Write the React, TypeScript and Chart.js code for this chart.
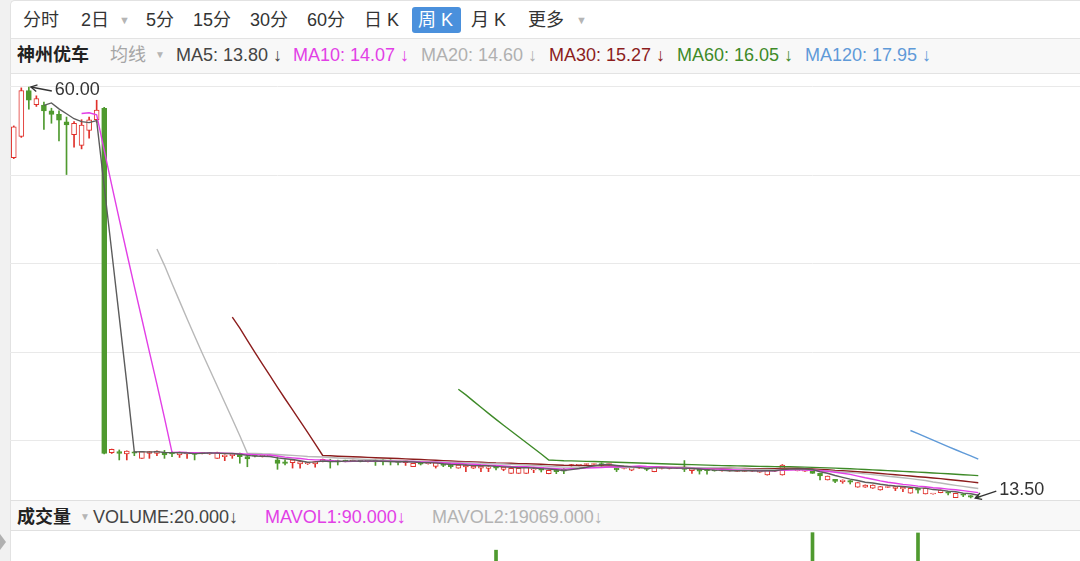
import React, { useEffect, useRef } from "react";
import { Chart, registerables } from "chart.js";

Chart.register(...registerables);

// ---------- data (weekly candles) ----------
const openPrices = [
  52.0, 54.4, 59.6, 58.0, 57.95, 57.3, 56.9, 56.05, 54.6, 53.4, 55.1, 56.3,
  57.6, 18.64, 18.76, 18.5, 18.75, 18.0, 18.57, 18.57, 18.64, 18.65, 18.38, 18.5,
  18.6, 18.55, 18.5, 18.0, 18.19, 18.3, 18.57, 18.2, 18.3, 18.22, 18.25, 17.82,
  17.6, 17.5, 17.36, 17.4, 17.36, 17.63, 17.8, 17.75, 17.75, 17.7, 17.72, 17.68,
  17.8, 17.82, 17.8, 17.75, 17.5, 17.06, 17.5, 17.4, 17.1, 17.36, 17.25, 16.88,
  17.03, 16.88, 16.9, 16.85, 17.1, 16.75, 16.31, 16.31, 16.31, 16.7, 16.95, 16.27,
  16.7, 16.75, 17.14, 17.2, 17.3, 17.3, 17.4, 17.3, 16.88, 16.85, 16.65, 16.9,
  16.95, 16.5, 16.85, 16.85, 16.88, 17.0, 16.6, 16.75, 16.8, 16.65, 16.57, 16.58,
  16.52, 16.52, 16.55, 16.45, 16.12, 16.55, 16.12, 16.8, 16.6, 16.55, 16.69, 16.31,
  15.55, 15.63, 15.36, 15.48, 14.73, 14.73, 14.62, 14.42, 14.7, 14.6, 14.55, 14.05,
  14.62, 13.97, 13.97, 14.12, 14.23, 13.56, 14.0, 13.78, 13.72,
];
const highPrices = [
  55.6, 59.9, 60.0, 59.0, 58.3, 57.6, 57.3, 56.6, 56.1, 56.3, 56.6, 58.5,
  57.7, 19.05, 18.95, 18.85, 18.8, 18.8, 18.78, 18.85, 18.9, 18.75, 18.72, 18.66,
  18.66, 18.62, 18.66, 18.7, 18.4, 18.52, 18.6, 18.38, 18.35, 18.35, 18.36, 18.19,
  17.82, 17.85, 17.65, 17.55, 17.65, 17.92, 17.9, 17.8, 17.8, 17.8, 17.76, 17.78,
  17.85, 17.85, 17.85, 17.78, 17.77, 17.45, 17.55, 17.5, 17.5, 17.4, 17.28, 17.28,
  17.28, 17.16, 17.12, 17.07, 17.15, 17.02, 16.9, 16.9, 17.02, 17.0, 17.0, 16.67,
  16.75, 16.84, 17.32, 17.28, 17.38, 17.38, 17.5, 17.38, 16.9, 16.92, 17.02, 16.98,
  16.98, 17.02, 16.92, 16.92, 16.93, 17.75, 16.88, 16.79, 16.85, 16.66, 16.65, 16.65,
  16.6, 16.6, 16.62, 16.52, 16.7, 16.62, 17.3, 16.88, 16.67, 16.62, 16.7, 16.32,
  16.0, 15.64, 15.57, 15.5, 15.26, 15.0, 15.0, 14.82, 14.77, 14.82, 14.75, 14.63,
  14.63, 14.63, 14.0, 14.43, 14.25, 14.06, 14.02, 13.8, 13.75,
];
const lowPrices = [
  51.9, 54.3, 57.5, 57.8, 55.2, 55.9, 53.9, 50.1, 53.2, 53.0, 54.2, 56.0,
  18.5, 18.55, 17.82, 17.82, 18.3, 18.0, 18.0, 18.3, 18.0, 18.2, 18.1, 18.0,
  17.82, 18.5, 18.45, 18.0, 17.74, 18.0, 17.45, 17.05, 18.15, 18.15, 18.2, 16.76,
  17.25, 16.9, 16.9, 17.3, 17.0, 17.6, 16.9, 17.25, 17.6, 17.65, 17.6, 17.6,
  17.2, 17.25, 17.25, 17.25, 17.2, 17.06, 17.25, 17.35, 16.9, 17.06, 16.88, 16.88,
  16.5, 16.85, 16.5, 16.5, 16.7, 16.6, 16.3, 16.3, 16.3, 16.38, 16.46, 16.25,
  16.27, 16.27, 17.1, 17.15, 17.25, 17.25, 17.05, 17.25, 16.5, 16.8, 16.6, 16.85,
  16.6, 16.48, 16.8, 16.8, 16.87, 16.5, 16.31, 16.22, 16.22, 16.55, 16.55, 16.55,
  16.5, 16.5, 16.52, 16.42, 16.1, 16.52, 16.1, 16.78, 16.58, 16.52, 16.3, 15.55,
  15.55, 15.25, 15.18, 15.1, 14.73, 14.72, 14.6, 14.4, 14.68, 14.35, 14.23, 14.05,
  14.05, 13.97, 13.95, 14.1, 13.86, 13.55, 13.67, 13.52, 13.5,
];
const closePrices = [
  55.5, 59.6, 58.5, 58.7, 57.3, 56.9, 56.25, 55.7, 55.9, 55.7, 56.3, 57.4,
  18.55, 19.03, 18.57, 18.83, 18.6, 18.76, 18.76, 18.83, 18.38, 18.5, 18.69, 18.64,
  18.45, 18.6, 18.62, 18.66, 18.38, 18.5, 18.19, 17.95, 18.25, 18.3, 18.32, 17.44,
  17.44, 17.82, 17.63, 17.5, 17.63, 17.9, 17.6, 17.6, 17.7, 17.75, 17.68, 17.74,
  17.6, 17.6, 17.6, 17.55, 17.75, 17.44, 17.35, 17.45, 17.48, 17.2, 17.05, 17.25,
  17.25, 17.14, 17.1, 17.05, 16.9, 17.0, 16.88, 16.88, 17.0, 16.77, 16.65, 16.65,
  16.5, 16.55, 17.3, 17.25, 17.36, 17.36, 17.2, 17.36, 16.7, 16.9, 17.0, 16.95,
  16.75, 17.0, 16.9, 16.9, 16.9, 16.75, 16.85, 16.55, 16.6, 16.58, 16.63, 16.62,
  16.58, 16.58, 16.6, 16.5, 16.69, 16.6, 17.25, 16.85, 16.65, 16.6, 16.31, 16.0,
  16.0, 15.4, 15.55, 15.3, 15.25, 14.99, 14.99, 14.8, 14.75, 14.8, 14.73, 14.62,
  14.4, 14.62, 13.98, 14.42, 14.05, 14.05, 13.85, 13.62, 13.6,
];
const volumes = [
  42000, 65000, 58000, 36000, 30000, 27000, 33000, 41000, 29000, 26000, 24000, 31000,
  98000, 21000, 12000, 9000, 8000, 11000, 7000, 6500, 8800, 5200, 6100, 4800,
  7300, 3900, 4200, 6900, 5600, 4700, 8100, 9400, 3800, 3500, 3600, 12500,
  7200, 6800, 5900, 4100, 5200, 6300, 8800, 5400, 3900, 3700, 3300, 3600,
  6100, 5800, 5500, 4900, 5300, 6600, 4400, 3800, 5100, 4700, 5200, 6000,
  6800, 4200, 5400, 4600, 156000, 4800, 6200, 5900, 6300, 5100, 4400, 5600,
  4300, 4100, 7900, 3200, 2900, 3100, 4500, 2800, 6400, 2600, 4200, 2500,
  3900, 4600, 2300, 2200, 2100, 8300, 4900, 4600, 4100, 2400, 2100, 2000,
  1900, 1800, 1900, 1700, 4300, 1600, 7200, 1800, 1500, 1400, 189800, 3900,
  3600, 2900, 2500, 2700, 3300, 2100, 2200, 2600, 1200, 1900, 1700, 400,
  189200, 300, 150, 200, 110, 95, 130, 95, 20,
];

const SLOT_COUNT = 142;
const slotLabels = Array.from({ length: SLOT_COUNT }, (_, i) => String(i + 1));
const priceGridLines = [20, 30, 40, 50, 60];
const maPeriods = [5, 10, 20, 30, 60, 120];
const maColors = ["#5c5c5c", "#e23fe6", "#b8b8b8", "#8c1d1d", "#3e8a28", "#5f9ad8"];
const maLegendColors = ["#444444", "#e23fe6", "#b0b0b0", "#8c1d1d", "#3e8a28", "#5f9ad8"];
const maLegendTexts = ["MA5: 13.80 ↓", "MA10: 14.07 ↓", "MA20: 14.60 ↓", "MA30: 15.27 ↓", "MA60: 16.05 ↓", "MA120: 17.95 ↓"];
const maLegendX = [176, 293, 421, 549, 677, 805];
const toolbarTexts = ["分时", "2日", "5分", "15分", "30分", "60分", "日 K", "周 K", "月 K", "更多"];
const toolbarX = [23, 81, 146, 193, 250, 307, 364, 418, 471, 528];
const volumeLegendTexts = ["VOLUME:20.000↓", "MAVOL1:90.000↓", "MAVOL2:19069.000↓"];
const volumeLegendX = [93, 265, 432];
const volumeLegendColors = ["#444444", "#e23fe6", "#b3b3b3"];

const UP = "#e0302b";
const DOWN = "#4f9a2f";
const FONT = '"Liberation Sans", "Noto Sans CJK SC", Arial, sans-serif';
const FS = 18;

const isUp = closePrices.map((c, i) => c >= openPrices[i]);
const candleColors = isUp.map((u) => (u ? UP : DOWN));

function movingAverage(period: number) {
  return closePrices.map((_, i) => {
    if (i < period - 1) return null;
    let s = 0;
    for (let k = i - period + 1; k <= i; k++) s += closePrices[k];
    return s / period;
  });
}

const extremesPlugin = {
  id: "extremes",
  afterDatasetsDraw(chart: any) {
    const { ctx, scales } = chart;
    const hi = Math.max(...highPrices);
    const hiIdx = highPrices.indexOf(hi);
    const lo = Math.min(...lowPrices);
    const loIdx = lowPrices.indexOf(lo);
    const mark = (tipX: number, tipY: number, text: string, dy: number) => {
      const tailX = tipX + 21;
      const tailY = tipY + dy;
      ctx.save();
      ctx.strokeStyle = "#333";
      ctx.lineWidth = 1.3;
      ctx.beginPath();
      ctx.moveTo(tailX, tailY);
      ctx.lineTo(tipX, tipY);
      ctx.stroke();
      const ang = Math.atan2(tailY - tipY, tailX - tipX);
      const len = 7;
      ctx.beginPath();
      ctx.moveTo(tipX + len * Math.cos(ang - 0.5), tipY + len * Math.sin(ang - 0.5));
      ctx.lineTo(tipX, tipY);
      ctx.lineTo(tipX + len * Math.cos(ang + 0.5), tipY + len * Math.sin(ang + 0.5));
      ctx.stroke();
      ctx.fillStyle = "#333";
      ctx.font = `${FS}px ${FONT}`;
      ctx.textAlign = "left";
      ctx.textBaseline = "middle";
      ctx.fillText(text, tailX + 3, tailY - 1);
      ctx.restore();
    };
    mark(scales.x.getPixelForValue(hiIdx) + 2, scales.y.getPixelForValue(hi), hi.toFixed(2), 4);
    mark(scales.x.getPixelForValue(loIdx) - 3, scales.y.getPixelForValue(lo), lo.toFixed(2), -7);
  },
};

function PriceChart() {
  const ref = useRef<HTMLCanvasElement>(null);
  useEffect(() => {
    const maSets = maPeriods.map((p, k) => ({
      type: "line" as const,
      label: `MA${p}`,
      data: movingAverage(p),
      borderColor: maColors[k],
      borderWidth: 1.4,
      pointRadius: 0,
      tension: 0,
      spanGaps: false,
      order: 0,
    }));
    const chart = new Chart(ref.current as HTMLCanvasElement, {
      type: "bar",
      data: {
        labels: slotLabels,
        datasets: [
          ...maSets,
          {
            type: "bar",
            label: "body",
            data: openPrices.map((o, i) => [o, closePrices[i]]),
            backgroundColor: isUp.map((u) => (u ? "#ffffff" : DOWN)),
            borderColor: candleColors,
            borderWidth: 1,
            borderSkipped: false,
            barThickness: 5,
            minBarLength: 1,
            grouped: false,
            order: 1,
          },
          {
            type: "bar",
            label: "wick",
            data: lowPrices.map((l, i) => [l, highPrices[i]]),
            backgroundColor: candleColors,
            borderWidth: 0,
            barThickness: 1,
            grouped: false,
            order: 2,
          },
        ] as any,
      },
      options: {
        animation: false,
        responsive: false,
        events: [],
        layout: { padding: 0 },
        plugins: { legend: { display: false }, tooltip: { enabled: false } },
        scales: {
          x: { display: false, offset: true },
          y: {
            min: 13.29,
            max: 61.47,
            ticks: { display: false },
            border: { display: false },
            grid: { color: "#e9e9e9", drawTicks: false, lineWidth: 1 },
            afterBuildTicks: (s: any) => {
              s.ticks = priceGridLines.map((v) => ({ value: v }));
            },
          },
        },
      },
      plugins: [extremesPlugin],
    });
    return () => chart.destroy();
  }, []);
  return <canvas ref={ref} width={1070} height={426} style={{ display: "block" }} />;
}

function VolumeChart() {
  const ref = useRef<HTMLCanvasElement>(null);
  useEffect(() => {
    const chart = new Chart(ref.current as HTMLCanvasElement, {
      type: "bar",
      data: {
        labels: slotLabels,
        datasets: [
          {
            label: "VOLUME",
            data: volumes,
            backgroundColor: candleColors,
            barThickness: 3,
          },
        ],
      },
      options: {
        animation: false,
        responsive: false,
        events: [],
        layout: { padding: 0 },
        plugins: { legend: { display: false }, tooltip: { enabled: false } },
        scales: {
          x: { display: false, offset: true },
          y: { display: false, min: 0, max: 193000 },
        },
      },
    });
    return () => chart.destroy();
  }, []);
  return <canvas ref={ref} width={1070} height={100} style={{ display: "block" }} />;
}

const txt = (left: number, cy: number, size: number, color: string, extra: any = {}) => ({
  position: "absolute" as const,
  left,
  top: cy - 13,
  height: 26,
  lineHeight: "26px",
  fontSize: size,
  color,
  whiteSpace: "nowrap" as const,
  fontFamily: FONT,
  ...extra,
});

export default function App() {
  return (
    <div
      style={{
        position: "fixed",
        left: 0,
        top: 0,
        width: 1080,
        height: 561,
        overflow: "hidden",
        background: "#f1f1f1",
        fontFamily: FONT,
      }}
    >
      {/* toolbar */}
      <div
        style={{
          position: "absolute",
          left: 10,
          top: 0,
          width: 1070,
          height: 38,
          background: "#ffffff",
          borderLeft: "1px solid #e2e2e2",
          borderTop: "1px solid #e2e2e2",
          borderTopLeftRadius: 5,
          boxSizing: "border-box",
        }}
      />
      <div style={{ position: "absolute", left: 412, top: 7, width: 49, height: 26, background: "#4a90dc", borderRadius: 3 }} />
      {toolbarTexts.map((t, i) => (
        <span key={t} style={txt(toolbarX[i], 20, FS, t === "周 K" ? "#ffffff" : "#333333")}>
          {t}
        </span>
      ))}
      <span style={txt(119, 20, 11, "#b5b5b5")}>▼</span>
      <span style={txt(576, 20, 11, "#b5b5b5")}>▼</span>

      {/* legend row */}
      <div
        style={{
          position: "absolute",
          left: 10,
          top: 38,
          width: 1070,
          height: 36,
          background: "#f8f8f8",
          borderTop: "1px solid #e3e3e3",
          borderBottom: "1px solid #e3e3e3",
          borderLeft: "1px solid #e2e2e2",
          boxSizing: "border-box",
        }}
      />
      <span style={txt(17, 55, FS, "#222222", { fontWeight: 600 })}>神州优车</span>
      <span style={txt(110, 55, FS, "#a6a6a6")}>均线</span>
      <span style={txt(155, 55, 10, "#b5b5b5")}>▼</span>
      {maLegendTexts.map((t, i) => (
        <span key={t} style={txt(maLegendX[i], 55, FS, maLegendColors[i])}>
          {t}
        </span>
      ))}

      {/* main price chart */}
      <div
        style={{
          position: "absolute",
          left: 10,
          top: 74,
          width: 1070,
          height: 426,
          background: "#ffffff",
          boxShadow: "inset 1px 0 0 #e2e2e2",
        }}
      >
        <PriceChart />
      </div>

      {/* separator + volume legend */}
      <div
        style={{
          position: "absolute",
          left: 10,
          top: 500,
          width: 1070,
          height: 31,
          background: "#f8f8f8",
          borderTop: "1px solid #e0e0e0",
          borderBottom: "1px solid #e0e0e0",
          borderLeft: "1px solid #e2e2e2",
          boxSizing: "border-box",
        }}
      />
      <span style={txt(17, 517, FS, "#222222", { fontWeight: 600 })}>成交量</span>
      <span style={txt(80, 517, 10, "#b5b5b5")}>▼</span>
      {volumeLegendTexts.map((t, i) => (
        <span key={t} style={txt(volumeLegendX[i], 517, FS, volumeLegendColors[i])}>
          {t}
        </span>
      ))}

      {/* volume chart */}
      <div
        style={{
          position: "absolute",
          left: 10,
          top: 531,
          width: 1070,
          height: 100,
          background: "#ffffff",
          boxShadow: "inset 1px 0 0 #e2e2e2",
        }}
      >
        <VolumeChart />
      </div>
      <div
        style={{
          position: "absolute",
          left: 0,
          top: 534,
          width: 0,
          height: 0,
          borderTop: "8px solid transparent",
          borderBottom: "8px solid transparent",
          borderLeft: "6px solid #b0b0b0",
        }}
      />
    </div>
  );
}
